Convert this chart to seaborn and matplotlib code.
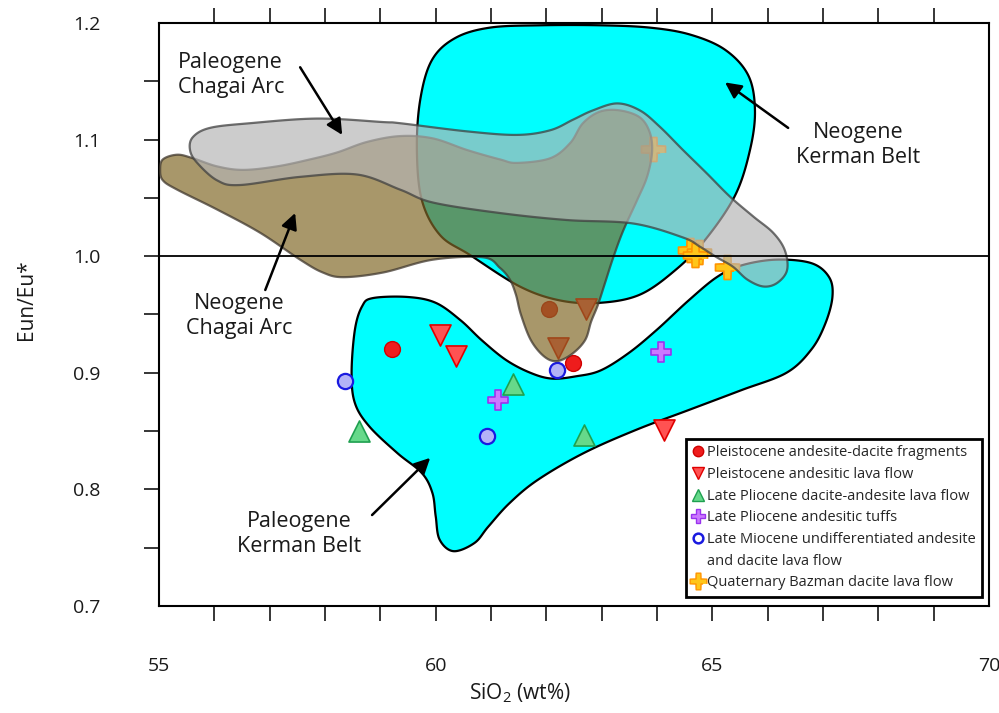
import numpy as np
import pandas as pd
import matplotlib
matplotlib.use("Agg")
import matplotlib.pyplot as plt
from matplotlib.lines import Line2D
import seaborn as sns

# ---------------------------------------------------------------- data
# Sample groups: SiO2 (wt%) and Eun/Eu*
pleisto_frag_si = [59.21, 62.05, 62.48]
pleisto_frag_eu = [0.920, 0.955, 0.908]

pleisto_lava_si = [60.08, 60.37, 62.72, 62.21, 64.13]
pleisto_lava_eu = [0.932, 0.914, 0.955, 0.921, 0.851]

plio_lava_si = [58.62, 61.39, 62.68]
plio_lava_eu = [0.850, 0.890, 0.847]

plio_tuff_si = [61.13, 64.07]
plio_tuff_eu = [0.877, 0.918]

mio_lava_si = [58.36, 62.19, 60.92]
mio_lava_eu = [0.893, 0.902, 0.846]

bazman_si = [63.93, 64.60, 64.76, 64.69, 65.27]
bazman_eu = [1.092, 1.005, 1.004, 1.001, 0.991]

# Compositional fields (outline vertices, SiO2 / Eun/Eu*)
neo_kerman_si = [60.98, 61.89, 62.97, 63.87, 64.60, 65.23, 65.65, 65.77, 65.68, 65.41,
                 64.87, 64.33, 63.69, 62.97, 62.25, 61.52, 60.62, 60.08, 59.75, 59.66,
                 59.72, 59.93, 60.35]
neo_kerman_eu = [1.196, 1.198, 1.198, 1.196, 1.190, 1.177, 1.155, 1.125, 1.091, 1.052,
                 1.014, 0.988, 0.967, 0.960, 0.962, 0.974, 1.001, 1.018, 1.048, 1.091,
                 1.134, 1.168, 1.187]

pal_kerman_si = [58.86, 59.49, 60.00, 60.45, 60.83, 61.27, 61.71, 62.10, 62.54, 62.98,
                 63.49, 64.00, 64.57, 65.08, 65.52, 66.15, 66.79, 67.11, 67.17, 67.04,
                 66.79, 66.34, 65.52, 64.57, 63.62, 62.67, 61.84, 61.33, 60.95, 60.70,
                 60.32, 60.07, 60.00, 59.94, 59.75, 59.31, 58.80, 58.54, 58.48, 58.54,
                 58.67]
pal_kerman_eu = [0.964, 0.965, 0.960, 0.945, 0.928, 0.911, 0.900, 0.895, 0.897, 0.902,
                 0.917, 0.937, 0.962, 0.982, 0.992, 0.997, 0.994, 0.982, 0.965, 0.942,
                 0.920, 0.900, 0.885, 0.868, 0.851, 0.831, 0.808, 0.788, 0.768, 0.754,
                 0.747, 0.757, 0.777, 0.797, 0.814, 0.831, 0.854, 0.874, 0.900, 0.937,
                 0.957]

neo_chagai_si = [55.02, 55.07, 55.33, 55.61, 56.05, 56.52, 57.13, 57.73, 58.22, 58.76,
                 59.36, 59.95, 60.57, 61.16, 61.47, 62.07, 62.43, 62.66, 62.97, 63.33,
                 63.69, 63.87, 63.91, 63.82, 63.64, 63.39, 63.21, 63.06, 62.93, 62.81,
                 62.70, 62.46, 62.19, 61.96, 61.72, 61.54, 61.45, 61.34, 61.16, 60.86,
                 59.95, 59.05, 58.33, 57.96, 57.55, 56.83, 56.05, 55.33, 55.07]
neo_chagai_eu = [1.074, 1.083, 1.087, 1.084, 1.077, 1.074, 1.077, 1.083, 1.089, 1.098,
                 1.103, 1.101, 1.091, 1.083, 1.080, 1.084, 1.097, 1.114, 1.124, 1.125,
                 1.119, 1.106, 1.089, 1.068, 1.048, 1.022, 0.999, 0.977, 0.958, 0.944,
                 0.928, 0.916, 0.910, 0.914, 0.928, 0.950, 0.967, 0.980, 0.990, 0.999,
                 0.997, 0.986, 0.982, 0.986, 0.997, 1.020, 1.040, 1.057, 1.065]

pal_chagai_si = [55.56, 55.61, 55.92, 56.64, 57.86, 59.05, 59.36, 60.57, 61.47, 62.07,
                 62.48, 62.84, 63.28, 63.69, 64.05, 64.47, 64.90, 65.32, 65.74, 66.10,
                 66.31, 66.35, 66.17, 65.92, 65.63, 65.37, 65.08, 64.78, 64.47, 63.57,
                 62.37, 61.16, 59.95, 59.36, 58.58, 57.55, 56.46, 56.05, 55.69]
pal_chagai_eu = [1.091, 1.102, 1.110, 1.114, 1.118, 1.115, 1.114, 1.107, 1.104, 1.108,
                 1.117, 1.125, 1.131, 1.125, 1.111, 1.091, 1.071, 1.051, 1.034, 1.020,
                 1.005, 0.988, 0.977, 0.974, 0.980, 0.991, 0.999, 1.008, 1.016, 1.028,
                 1.031, 1.037, 1.046, 1.057, 1.070, 1.068, 1.061, 1.065, 1.080]

group_labels = [
    "Pleistocene andesite-dacite fragments",
    "Pleistocene andesitic lava flow",
    "Late Pliocene dacite-andesite lava flow",
    "Late Pliocene andesitic tuffs",
    "Late Miocene undifferentiated andesite",
    "and dacite lava flow",
    "Quaternary Bazman dacite lava flow",
]
x_ticks = [55, 60, 65, 70]
y_ticks = [0.7, 0.8, 0.9, 1.0, 1.1, 1.2]


# ---------------------------------------------------------------- helpers
def smooth_closed(xs, ys, n=24):
    """Closed Catmull-Rom spline through the outline vertices."""
    p = np.column_stack([xs, ys])
    m = len(p)
    t = np.linspace(0, 1, n, endpoint=False)[:, None]
    out = []
    for i in range(m):
        p0, p1, p2, p3 = p[i - 1], p[i], p[(i + 1) % m], p[(i + 2) % m]
        seg = 0.5 * ((2 * p1) + (-p0 + p2) * t
                     + (2 * p0 - 5 * p1 + 4 * p2 - p3) * t ** 2
                     + (-p0 + 3 * p1 - 3 * p2 + p3) * t ** 3)
        out.append(seg)
    out = np.vstack(out)
    return out[:, 0], out[:, 1]


# four-pointed star marker with pinched waist
star = [(1, 0), (0.55, 0.22), (0.26, 0.26), (0.22, 0.55), (0, 1), (-0.22, 0.55),
        (-0.26, 0.26), (-0.55, 0.22), (-1, 0), (-0.55, -0.22), (-0.26, -0.26),
        (-0.22, -0.55), (0, -1), (0.22, -0.55), (0.26, -0.26), (0.55, -0.22)]
star = [(1, -0.28), (1, 0.28), (0.55, 0.3), (0.3, 0.3), (0.3, 0.55), (0.28, 1),
        (-0.28, 1), (-0.3, 0.55), (-0.3, 0.3), (-0.55, 0.3), (-1, 0.28), (-1, -0.28),
        (-0.55, -0.3), (-0.3, -0.3), (-0.3, -0.55), (-0.28, -1), (0.28, -1),
        (0.3, -0.55), (0.3, -0.3), (0.55, -0.3)]

# ---------------------------------------------------------------- style
sns.set_style("white")
plt.rcParams["font.family"] = ["Open Sans", "DejaVu Sans"]
plt.rcParams["mathtext.fontset"] = "custom"
plt.rcParams["mathtext.rm"] = "Open Sans"

fig = plt.figure(figsize=(9.99, 7.13), dpi=100)
ax = fig.add_axes([0.1592, 0.1501, 0.8308, 0.8177])

# ---------------------------------------------------------------- fields
for xs, ys in [(neo_kerman_si, neo_kerman_eu), (pal_kerman_si, pal_kerman_eu)]:
    sx, sy = smooth_closed(xs, ys)
    ax.fill(sx, sy, facecolor="#00FFFF", edgecolor="black", linewidth=1.6, zorder=1)

# ---------------------------------------------------------------- samples
groups = [
    (pleisto_frag_si, pleisto_frag_eu, "o", 130, "#EE1C1C", "#D00000", 1.0),
    (pleisto_lava_si, pleisto_lava_eu, "v", 230, "#FF5252", "#E00000", 1.2),
    (plio_lava_si, plio_lava_eu, "^", 230, "#66D98A", "#1FA050", 1.2),
    (plio_tuff_si, plio_tuff_eu, "P", 210, "#CC77FF", "#9933EE", 1.2),
    (mio_lava_si, mio_lava_eu, "o", 120, "#B3B3F7", "#1A1AE0", 1.6),
    (bazman_si, bazman_eu, star, 300, "#FFC61A", "#FF9400", 1.2),
]
for xs, ys, mk, s, fc, ec, lw in groups:
    df = pd.DataFrame({"SiO2": xs, "Eu": ys})
    sns.scatterplot(data=df, x="SiO2", y="Eu", marker=mk, s=s, color=fc,
                    edgecolor=ec, linewidth=lw, ax=ax, zorder=2, legend=False)

# Chagai arc fields, translucent over the samples
sx, sy = smooth_closed(neo_chagai_si, neo_chagai_eu)
ax.fill(sx, sy, facecolor=(130 / 255, 104 / 255, 39 / 255, 0.69),
        edgecolor=(0.25, 0.22, 0.18, 0.75), linewidth=1.6, zorder=3)
sx, sy = smooth_closed(pal_chagai_si, pal_chagai_eu)
ax.fill(sx, sy, facecolor=(180 / 255, 180 / 255, 180 / 255, 0.67),
        edgecolor=(0.25, 0.25, 0.25, 0.75), linewidth=1.6, zorder=4)

ax.axhline(1.0, color="black", linewidth=1.3, zorder=5)

# ---------------------------------------------------------------- labels/arrows
arrow = dict(arrowstyle="-|>", color="black", lw=1.8, mutation_scale=24,
             shrinkA=0, shrinkB=0)
lab_kw = dict(fontsize=15.5, color="#1a1a1a", linespacing=1.25, zorder=6)
ax.text(55.34, 1.155, "Paleogene\nChagai Arc", ha="left", va="center", **lab_kw)
ax.annotate("", xy=(58.31, 1.104), xytext=(57.55, 1.162), arrowprops=arrow, zorder=6)
ax.text(67.63, 1.095, "Neogene\nKerman Belt", ha="center", va="center", **lab_kw)
ax.annotate("", xy=(65.23, 1.149), xytext=(66.37, 1.110), arrowprops=arrow, zorder=6)
ax.text(56.45, 0.949, "Neogene\nChagai Arc", ha="center", va="center", **lab_kw)
ax.annotate("", xy=(57.46, 1.037), xytext=(56.92, 0.971), arrowprops=arrow, zorder=6)
ax.text(57.53, 0.762, "Paleogene\nKerman Belt", ha="center", va="center", **lab_kw)
ax.annotate("", xy=(59.90, 0.827), xytext=(58.85, 0.778), arrowprops=arrow, zorder=6)

# ---------------------------------------------------------------- axes
ax.set_xlim(55, 70)
ax.set_ylim(0.7, 1.2)
ax.xaxis.remove_overlapping_locs = False
ax.yaxis.remove_overlapping_locs = False
ax.set_xticks(x_ticks)
ax.set_xticklabels([str(v) for v in x_ticks])
ax.set_yticks(y_ticks)
ax.set_yticklabels([f"{v:.1f}" for v in y_ticks])
ax.set_xticks(np.arange(56, 70, 1), minor=True)
ax.set_yticks(np.arange(0.75, 1.16, 0.05), minor=True)
ax.tick_params(which="major", length=0, labelsize=14, colors="#1a1a1a")
ax.tick_params(axis="x", which="major", pad=37)
ax.tick_params(axis="y", which="major", pad=42)
ax.tick_params(which="minor", direction="out", length=11, width=1.1, color="black",
               bottom=True, top=True, left=True, right=False)
for sp in ax.spines.values():
    sp.set_color("black")
    sp.set_linewidth(1.5)

ax.set_xlabel(r"SiO$_\mathregular{2}$ (wt%)", fontsize=15, color="#1a1a1a")
ax.set_ylabel("Eun/Eu*", fontsize=15, color="#1a1a1a")
ax.xaxis.set_label_coords(0.435, -0.13)
ax.yaxis.set_label_coords(-0.147, 0.525)

# ---------------------------------------------------------------- legend
handles = [
    Line2D([], [], ls="", marker="o", ms=7.5, mfc="#EE1C1C", mec="#D00000"),
    Line2D([], [], ls="", marker="v", ms=8.5, mfc="#FF5252", mec="#E00000"),
    Line2D([], [], ls="", marker="^", ms=8.5, mfc="#66D98A", mec="#1FA050"),
    Line2D([], [], ls="", marker="P", ms=9.5, mfc="#CC77FF", mec="#9933EE"),
    Line2D([], [], ls="", marker="o", ms=7, mfc="white", mec="#1A1AE0", mew=1.8),
    Line2D([], [], ls="", marker=""),
    Line2D([], [], ls="", marker=star, ms=12, mfc="#FFC61A", mec="#FF9400"),
]
leg = ax.legend(handles, group_labels, loc="lower right", bbox_to_anchor=(0.9916, 0.0154),
                frameon=True, fancybox=False, framealpha=1, edgecolor="black",
                fontsize=10.5, handlelength=0.7, handletextpad=0.25, borderpad=0.45,
                labelspacing=0.46, borderaxespad=0)
leg.get_frame().set_linewidth(2)
leg.set_zorder(7)

fig.savefig("out.png", dpi=100)
